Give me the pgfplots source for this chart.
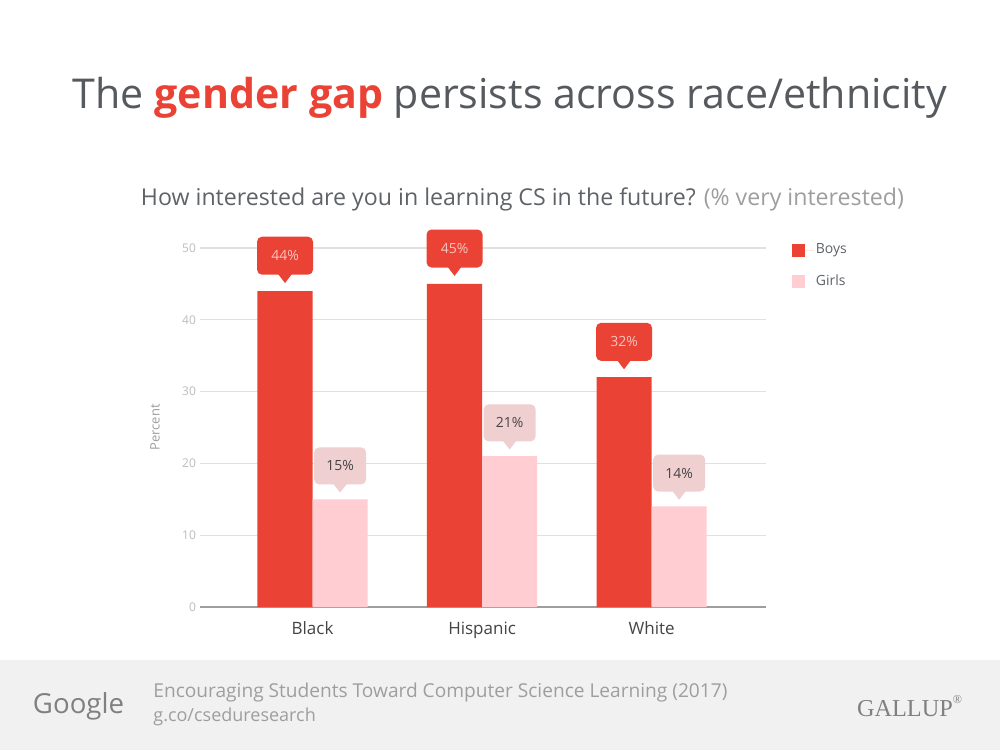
\documentclass[border=0pt]{standalone}
\usepackage{pgfplots}
\usepackage{pgfplotstable}
\pgfplotsset{compat=1.18}
\usepackage{fontspec}
\setmainfont{Open Sans}
\newfontfamily\galfont{Liberation Serif}
\definecolor{boysred}{HTML}{EA4335}
\definecolor{girlspink}{HTML}{FFCDD2}
\definecolor{girlsbox}{HTML}{F0CFD1}
\definecolor{boystext}{HTML}{F8C4BE}
\definecolor{titlegray}{HTML}{565A5F}
\definecolor{subgray}{HTML}{5F6368}
\definecolor{lightgray2}{HTML}{9E9E9E}
\definecolor{tickgray}{HTML}{BDBDBD}
\definecolor{gridgray}{HTML}{E0E0E0}
\definecolor{footbg}{HTML}{F1F1F1}
\definecolor{labgray}{HTML}{444444}

\pgfdeclareplotmark{dtriboy}{\pgfpathmoveto{\pgfqpoint{-3.5pt}{8.6pt}}\pgfpathlineto{\pgfqpoint{3.5pt}{8.6pt}}\pgfpathlineto{\pgfqpoint{0pt}{4pt}}\pgfpathclose\pgfusepathqfill}
\pgfdeclareplotmark{dtrigirl}{\pgfpathmoveto{\pgfqpoint{-3.5pt}{7.85pt}}\pgfpathlineto{\pgfqpoint{3.5pt}{7.85pt}}\pgfpathlineto{\pgfqpoint{0pt}{3.4pt}}\pgfpathclose\pgfusepathqfill}

\pgfplotstableread{
x boys girls
0 44 15
1 45 21
2 32 14
}\datatable

\begin{document}
\begin{tikzpicture}
\path[fill=white] (0,0) rectangle (500pt,375pt);
\path[fill=footbg] (0,0) rectangle (500pt,45pt);
% title
\node at (255pt,326pt) {\resizebox{437pt}{!}{\color{titlegray}The \textcolor{boysred}{\textbf{gender gap}} persists across race/ethnicity}};
\node at (261.25pt,275.5pt) {\resizebox{381.5pt}{!}{\color{subgray}How interested are you in learning CS in the future? \textcolor{lightgray2}{(\% very interested)}}};
% footer
\node at (39.25pt,22pt) {\resizebox{45.5pt}{!}{\color{gray}Google}};
\node[anchor=west, inner sep=0pt] at (76.5pt,28.5pt) {\resizebox{287pt}{!}{\color{lightgray2}Encouraging Students Toward Computer Science Learning (2017)}};
\node[anchor=west, inner sep=0pt, font=\fontsize{9}{10}\selectfont, text=lightgray2] at (76.5pt,16.5pt) {g.co/cseduresearch};
\node at (454.75pt,22pt) {\resizebox{52.5pt}{!}{\color{gray}\galfont GALLUP\raisebox{1.2ex}{\tiny\textregistered}}};

\begin{axis}[
  at={(100pt,71.5pt)}, anchor=south west,
  scale only axis, width=283pt, height=179.5pt,
  xmin=-0.664, xmax=2.675, ymin=0, ymax=50,
  xtick={0,1,2}, xticklabels={Black,Hispanic,White},
  ytick={10,20,30,40,50},
  extra y ticks={0},
  extra y tick style={grid style={draw=lightgray2, line width=0.6pt}},
  ymajorgrids, grid style={draw=gridgray, line width=0.6pt},
  axis line style={draw=none},
  major tick length=0pt,
  xtick style={draw=none},
  /pgf/number format/assume math mode=true,
  yticklabel style={font=\fontsize{6}{7}\selectfont, text=tickgray, xshift=1.5pt},
  xticklabel style={font=\fontsize{8.5}{10}\selectfont, text=labgray, yshift=-4pt},
  ylabel={Percent},
  ylabel style={font=\fontsize{6.5}{7}\selectfont, text=lightgray2, at={(axis description cs:-0.0795,0.5)}, anchor=center},
  legend style={at={(axis description cs:1.045,1.019)}, anchor=north west, draw=none, fill=none,
    font=\fontsize{7}{8}\selectfont, text=subgray, row sep=7pt, inner sep=0pt,
    nodes={inner sep=1pt, anchor=west}},
  legend cell align=left,
  legend image code/.code={\fill[#1] (0pt,-3.25pt) rectangle (6.5pt,3.25pt); \path (0pt,0pt) -- (11pt,0pt);},
]
\addplot[ybar, bar width=0.325, bar shift=-0.1625, fill=boysred, draw=none,
  nodes near coords={\pgfmathprintnumber{\pgfplotspointmeta}\%},
  nodes near coords style={rectangle, fill=boysred, rounded corners=2.5pt, text=boystext,
    minimum width=28pt, minimum height=19pt, inner sep=0pt,
    anchor=south, xshift=-13.77pt, yshift=8pt, font=\fontsize{7}{8}\selectfont}]
  table[x=x, y=boys] {\datatable};
\addlegendentry{Boys}
\addplot[ybar, bar width=0.325, bar shift=0.1625, fill=girlspink, draw=none,
  nodes near coords={\pgfmathprintnumber{\pgfplotspointmeta}\%},
  nodes near coords style={rectangle, fill=girlsbox, rounded corners=2.5pt, text=labgray,
    minimum width=26pt, minimum height=18.5pt, inner sep=0pt,
    anchor=south, xshift=13.77pt, yshift=7.25pt, font=\fontsize{7}{8}\selectfont}]
  table[x=x, y=girls] {\datatable};
\addlegendentry{Girls}
\addplot[only marks, mark=dtriboy, color=boysred, forget plot]
  table[x expr=\thisrow{x}-0.1625, y=boys] {\datatable};
\addplot[only marks, mark=dtrigirl, color=girlsbox, forget plot]
  table[x expr=\thisrow{x}+0.1625, y=girls] {\datatable};
\end{axis}
\end{tikzpicture}
\end{document}
